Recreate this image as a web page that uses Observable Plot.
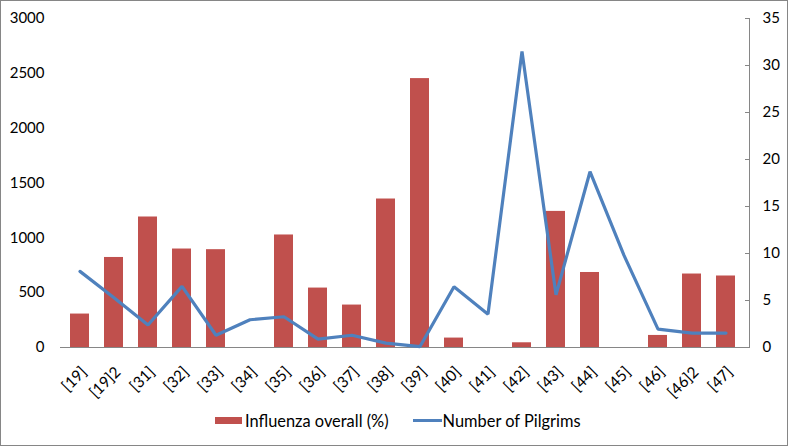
<!DOCTYPE html>
<html>
<head>
<meta charset="utf-8">
<script src="https://cdn.jsdelivr.net/npm/d3@7"></script>
<script src="https://cdn.jsdelivr.net/npm/@observablehq/plot@0.6"></script>
<style>
  body { margin: 0; background: #fff; }
  #wrap { position: relative; width: 788px; height: 446px; overflow: hidden; background: #fff; font-family: Lato, "Open Sans", sans-serif; }
  #border { position: absolute; left: 0; top: 0; width: 788px; height: 446px; box-sizing: border-box; border: 1px solid #868686; pointer-events: none; }
  #chart { position: absolute; left: 0; top: 0; }
  #legend { position: absolute; left: 215px; top: 411px; display: flex; align-items: center; font-size: 16.4px; color: #000; white-space: nowrap; }
  .sw-bar { width: 27px; height: 7px; background: #C0504D; margin-right: 3px; }
  .sw-line { width: 29px; height: 3px; background: #4F81BD; margin-right: 1px; }
  .item { display: flex; align-items: center; }
</style>
</head>
<body>
<div id="wrap">
  <div id="chart"></div>
  <div id="legend">
    <div class="item"><div class="sw-bar"></div><span id="l1"></span></div>
    <div class="item" style="margin-left:24px"><div class="sw-line"></div><span id="l2"></span></div>
  </div>
  <div id="border"></div>
</div>
<script>
const categories = ["[19]","[19]2","[31]","[32]","[33]","[34]","[35]","[36]","[37]","[38]","[39]","[40]","[41]","[42]","[43]","[44]","[45]","[46]","[46]2","[47]"];
const influenza = [305,821,1190,898,892,0,1026,542,387,1354,2452,86,0,43,1241,684,0,110,670,652];
const pilgrims = [8.1,5.3,2.4,6.5,1.3,2.95,3.27,0.9,1.3,0.47,0.1,6.46,3.55,31.5,5.6,18.7,9.8,1.96,1.53,1.53];
const leftTicks = [0,500,1000,1500,2000,2500,3000];
const rightTicks = [0,5,10,15,20,25,30,35];
const leftMax = 3000;
const rightMax = 35;
const seriesNames = ["Influenza overall (%)", "Number of Pilgrims"];

const data = categories.map((c, i) => ({c, inf: influenza[i], pil: pilgrims[i]}));
const toLeft = v => v * leftMax / rightMax;

const chart = Plot.plot({
  width: 788,
  height: 400,
  marginLeft: 60,
  marginRight: 39,
  marginTop: 18,
  marginBottom: 53,
  style: {fontFamily: "Lato, 'Open Sans', sans-serif", fontSize: "15px", color: "#000", background: "transparent"},
  x: {domain: categories, paddingInner: 0.43, paddingOuter: 0.215, insetRight: 4},
  y: {domain: [0, leftMax]},
  marks: [
    Plot.barY(data, {x: "c", y: "inf", fill: "#C0504D"}),
    Plot.ruleY([0], {stroke: "#868686", strokeWidth: 1}),
    Plot.frame({anchor: "right", stroke: "#868686"}),
    Plot.lineY(data, {x: "c", y: d => toLeft(d.pil), stroke: "#4F81BD", strokeWidth: 3.2, strokeLinejoin: "miter"}),
    Plot.axisY(leftTicks, {anchor: "left", tickSize: 0, tickPadding: 16, tickFormat: d => String(d), label: null}),
    Plot.axisY(rightTicks.map(toLeft), {anchor: "right", tickSize: -5, tickPadding: 18, stroke: "#868686", tickFormat: d => String(Math.round(d * rightMax / leftMax)), label: null}),
    Plot.axisX({tickRotate: -45, tickSize: 0, tickPadding: 6, dy: 16, dx: 4, fontSize: 15.5, label: null})
  ]
});
document.getElementById("chart").appendChild(chart);
document.getElementById("l1").textContent = seriesNames[0];
document.getElementById("l2").textContent = seriesNames[1];
</script>
</body>
</html>
